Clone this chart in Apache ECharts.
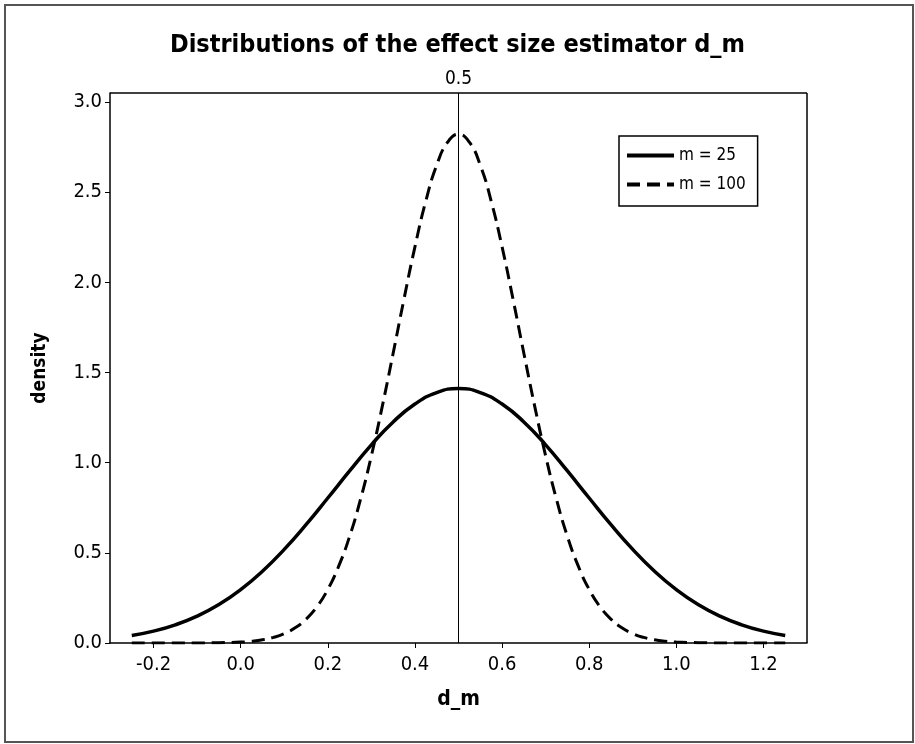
<!DOCTYPE html>
<html>
<head>
<meta charset="utf-8">
<script src="https://cdn.jsdelivr.net/npm/echarts@6/dist/echarts.min.js"></script>
<style>
html,body{margin:0;padding:0;background:#fff;}
#chart{width:915px;height:744px;}
</style>
</head>
<body>
<div id="chart"></div>
<script>
// ---- data ----
var titleText = 'Distributions of the effect size estimator d_m';
var seriesNames = ['m = 25', 'm = 100'];
var xTicks = [-0.2, 0.0, 0.2, 0.4, 0.6, 0.8, 1.0, 1.2];
var yTicks = [0.0, 0.5, 1.0, 1.5, 2.0, 2.5, 3.0];
var refLineX = 0.5;

var x25 = [-0.25,-0.20,-0.15,-0.10,-0.05,0.00,0.05,0.10,0.15,0.20,0.25,0.30,0.35,0.40,0.45,0.50,
           0.55,0.60,0.65,0.70,0.75,0.80,0.85,0.90,0.95,1.00,1.05,1.10,1.15,1.20,1.25];
var y25 = [0.042,0.066,0.101,0.149,0.213,0.296,0.398,0.519,0.656,0.804,0.954,1.099,1.226,1.325,1.389,1.411,
           1.389,1.325,1.226,1.099,0.954,0.804,0.656,0.519,0.398,0.296,0.213,0.149,0.101,0.066,0.042];

var x100 = [-0.25,-0.20,-0.15,-0.10,-0.05,0.000,0.025,0.050,0.075,0.100,0.125,0.150,0.175,0.200,0.225,
            0.250,0.275,0.300,0.325,0.350,0.375,0.400,0.425,0.450,0.475,0.500,
            0.525,0.550,0.575,0.600,0.625,0.650,0.675,0.700,0.725,0.750,0.775,0.800,0.825,0.850,0.875,
            0.900,0.925,0.950,0.975,1.000,1.05,1.10,1.15,1.20,1.25];
var y100 = [0.000,0.000,0.000,0.000,0.002,0.005,0.010,0.018,0.031,0.052,0.084,0.132,0.201,0.297,0.426,
            0.591,0.796,1.038,1.312,1.607,1.909,2.197,2.451,2.650,2.777,2.821,
            2.777,2.650,2.451,2.197,1.909,1.607,1.312,1.038,0.796,0.591,0.426,0.297,0.201,0.132,0.084,
            0.052,0.031,0.018,0.010,0.005,0.002,0.000,0.000,0.000,0.000];

function pairs(xs, ys){ return xs.map(function(x,i){ return [x, ys[i]]; }); }

var FONT = '"DejaVu Sans Condensed", "Liberation Sans Narrow", "DejaVu Sans", sans-serif';

var chart = echarts.init(document.getElementById('chart'), null, {renderer:'canvas'});
chart.setOption({
  backgroundColor: '#ffffff',
  animation: false,
  title: {
    text: titleText,
    left: 'center',
    top: 28,
    textStyle: {fontFamily: FONT, fontWeight: 'bold', fontSize: 25, color: '#000'}
  },
  legend: {
    orient: 'vertical',
    left: 619,
    top: 136,
    padding: [11, 12, 13, 6],
    itemWidth: 47,
    itemHeight: 14,
    itemGap: 12,
    borderColor: '#000',
    borderWidth: 1.5,
    backgroundColor: '#fff',
    itemStyle: {opacity: 0},
    lineStyle: {width: 4},
    textStyle: {fontFamily: FONT, fontSize: 17, color: '#000'},
    data: seriesNames
  },
  grid: {left: 110, right: 108, top: 93, bottom: 101},
  xAxis: {
    type: 'value',
    min: -0.3,
    max: 1.3,
    name: 'd_m',
    nameLocation: 'middle',
    nameGap: 46,
    nameTextStyle: {fontFamily: FONT, fontWeight: 'bold', fontSize: 21, color: '#000'},
    axisLine: {onZero: false, lineStyle: {color: '#000', width: 1.5}},
    axisTick: {show: true, length: 5, customValues: xTicks, lineStyle: {color: '#000', width: 1}},
    axisLabel: {customValues: xTicks, margin: 12, fontFamily: FONT, fontSize: 20, color: '#000',
      formatter: function(v){ return v.toFixed(1); }},
    splitLine: {show: false}
  },
  yAxis: {
    type: 'value',
    min: 0,
    max: 3.05,
    name: 'density',
    nameLocation: 'middle',
    nameGap: 60,
    nameTextStyle: {fontFamily: FONT, fontWeight: 'bold', fontSize: 19, color: '#000'},
    axisLine: {onZero: false, lineStyle: {color: '#000', width: 1.5}},
    axisTick: {show: true, length: 5, customValues: yTicks, lineStyle: {color: '#000', width: 1}},
    axisLabel: {customValues: yTicks, margin: 8, fontFamily: FONT, fontSize: 20, color: '#000',
      formatter: function(v){ return v.toFixed(1); }},
    splitLine: {show: false}
  },
  series: [
    {
      name: seriesNames[0],
      type: 'line',
      smooth: true,
      symbol: 'none',
      data: pairs(x25, y25),
      lineStyle: {color: '#000', width: 3.5, type: 'solid'},
      itemStyle: {color: '#000'},
      markLine: {
        silent: true,
        symbol: 'none',
        lineStyle: {color: '#000', width: 1, type: 'solid'},
        label: {show: true, position: 'end', distance: 4, formatter: '0.5',
          fontFamily: FONT, fontSize: 19, color: '#000'},
        data: [{xAxis: refLineX}]
      }
    },
    {
      name: seriesNames[1],
      type: 'line',
      smooth: true,
      symbol: 'none',
      data: pairs(x100, y100),
      lineStyle: {color: '#000', width: 3, type: [13, 7]},
      itemStyle: {color: '#000'}
    }
  ],
  graphic: [
    {type: 'rect', silent: true, z: 100,
     shape: {x: 5, y: 5, width: 908, height: 737},
     style: {fill: null, stroke: '#555', lineWidth: 2}},
    {type: 'line', silent: true, z: 100,
     shape: {x1: 807, y1: 93, x2: 807, y2: 643},
     style: {stroke: '#000', lineWidth: 1.5}},
    {type: 'line', silent: true, z: 100,
     shape: {x1: 110, y1: 93, x2: 807, y2: 93},
     style: {stroke: '#000', lineWidth: 1.5}}
  ]
});
</script>
</body>
</html>
